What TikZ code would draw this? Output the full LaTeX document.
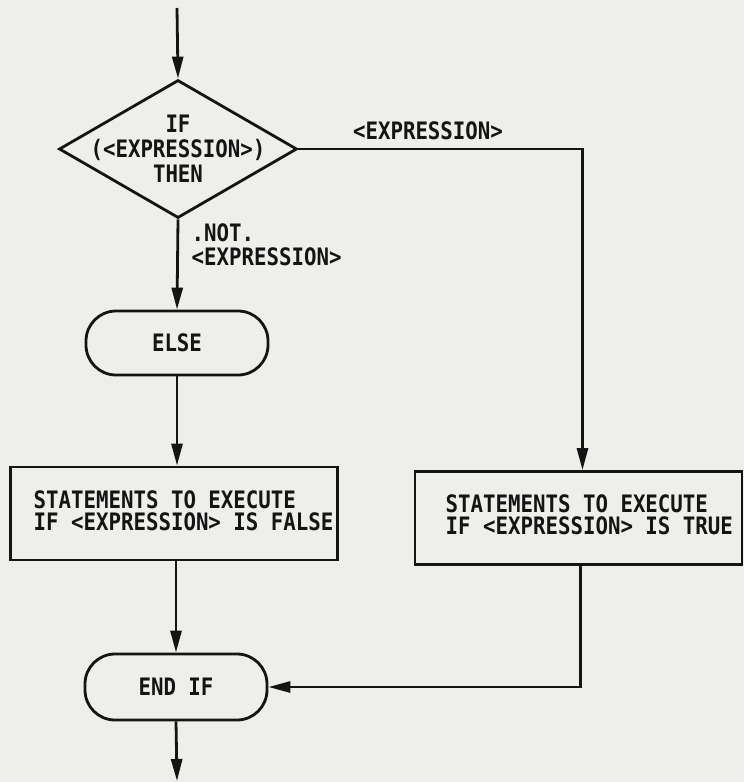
\documentclass[tikz,border=0pt]{standalone}
\usepackage{fontspec}
\newfontfamily\flowfont[FakeStretch=0.865]{DejaVu Sans Mono}
\usetikzlibrary{shapes.geometric,arrows.meta}
\definecolor{paper}{RGB}{238,238,235}
\definecolor{ink}{RGB}{20,20,20}
\begin{document}
\begin{tikzpicture}[x=1pt,y=-1pt,
  every node/.style={font=\flowfont\bfseries\fontsize{24}{22}\selectfont, text=ink},
  ln/.style={draw=ink, line width=2.8pt},
  arr/.style={ln, -{Triangle[length=22pt,width=11pt]}},
  decbox/.style={ln, diamond, minimum width=238pt, minimum height=138pt, inner sep=0pt},
  termbox/.style={ln, rectangle, rounded corners=30pt, minimum width=182pt, minimum height=64pt, inner sep=0pt},
  stmtbox/.style={ln, rectangle, minimum width=327pt, minimum height=93pt, inner sep=0pt}
]
\fill[paper] (0,0) rectangle (744,782);
\useasboundingbox (0,0) rectangle (744,782);

\coordinate (start) at (177,8);
\coordinate (finish) at (177,781);

\node[decbox] (dec) at (178,149) {};
\node[align=center, font=\flowfont\bfseries\fontsize{24}{25}\selectfont] (dectext) at (178,149) {IF\\(<EXPRESSION>)\\THEN};

\node[termbox] (else) at (177,343) {ELSE};
\node[stmtbox] (fbox) at (174,513.5) {};
\node[anchor=west, align=left] (ftext) at (30,511) {STATEMENTS TO EXECUTE\\IF <EXPRESSION> IS FALSE};

\node[stmtbox] (tbox) at (578.5,518) {};
\node[anchor=west, align=left] (ttext) at (442,515) {STATEMENTS TO EXECUTE\\IF <EXPRESSION> IS TRUE};

\node[termbox, minimum height=66pt] (endif) at (176,687) {END IF};

\node (truelab) at (428,131) {<EXPRESSION>};
\node[anchor=west, align=left, font=\flowfont\bfseries\fontsize{24}{24}\selectfont] (falselab) at (188,245) {.NOT.\\<EXPRESSION>};

\draw[arr] (start) -- (dec.north);
\draw[arr] (dec.south) -- (else.north);
\draw[arr] (else.south) -- (else.south |- fbox.north);
\draw[arr] (fbox.south -| endif.north) -- (endif.north);
\draw[arr] (endif.south) -- (finish);
\draw[arr] (dec.east) -| ([xshift=4pt]tbox.north);
\draw[arr] ([xshift=2pt]tbox.south) |- (endif.east);
\end{tikzpicture}
\end{document}
